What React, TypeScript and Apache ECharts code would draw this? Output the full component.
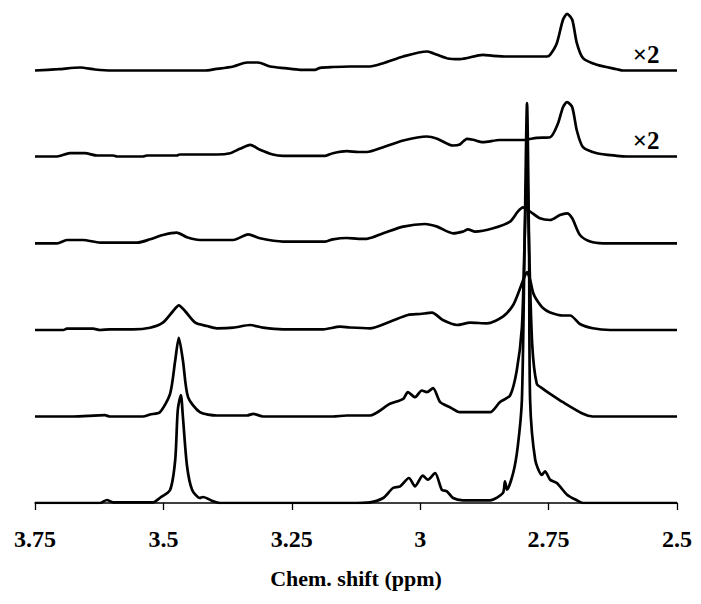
import React, { useEffect, useRef } from "react";
import * as echarts from "echarts";

// Chemical shift axis ticks (ppm), reversed axis
const xTicks = [3.75, 3.5, 3.25, 3, 2.75, 2.5];

// Spectra: [ppm, intensity] pairs, top trace first
const spectrum1: number[][] = [
  [3.75, 0], [3.705, 1.3], [3.662, 3], [3.633, 1], [3.6, 0], [3.419, 0], [3.4, 1.3], [3.364, 4],
  [3.337, 8], [3.316, 8], [3.292, 4], [3.263, 2.3], [3.234, 0.7], [3.205, 0.7], [3.195, 2.7],
  [3.17, 3.5], [3.137, 4], [3.098, 4], [3.072, 7.3], [3.033, 14], [2.987, 19], [2.975, 17.3],
  [2.948, 12.3], [2.923, 11.3], [2.878, 15.7], [2.858, 14.7], [2.831, 14], [2.753, 14], [2.747, 15.7],
  [2.734, 27.3], [2.722, 50.7], [2.714, 56.7], [2.704, 50.7], [2.695, 27.3], [2.683, 12.3],
  [2.656, 5.7], [2.617, 1.3], [2.605, 0], [2.5, 0],
];
const spectrum2: number[][] = [
  [3.75, 0], [3.707, 0], [3.682, 3.3], [3.653, 3.3], [3.629, 1], [3.598, 1], [3.59, 0], [3.54, 0],
  [3.532, 1], [3.474, 1], [3.468, 2], [3.396, 2], [3.37, 3.3], [3.351, 7.7], [3.331, 11.7],
  [3.312, 6.7], [3.287, 2], [3.267, 0.7], [3.185, 0.7], [3.17, 3.3], [3.143, 5.3], [3.12, 4.5],
  [3.104, 4.5], [3.072, 9.3], [3.033, 16], [2.987, 20], [2.967, 17.7], [2.936, 11], [2.923, 12],
  [2.909, 17.7], [2.897, 16.7], [2.878, 14.3], [2.845, 16.5], [2.8, 16.5], [2.773, 18.7],
  [2.747, 19.3], [2.732, 32.7], [2.722, 49.3], [2.714, 54.3], [2.704, 49.3], [2.695, 26],
  [2.683, 9.3], [2.656, 3.3], [2.617, 0.7], [2.597, 0], [2.5, 0],
];
const spectrum3: number[][] = [
  [3.75, 0], [3.707, 0], [3.688, 3.3], [3.657, 3.3], [3.623, 0.7], [3.551, 0.7], [3.526, 4],
  [3.501, 8.3], [3.474, 10.7], [3.454, 6], [3.429, 3.3], [3.364, 3.3], [3.335, 9], [3.312, 5],
  [3.267, 1.7], [3.185, 1.7], [3.17, 4], [3.143, 5.3], [3.12, 4.5], [3.104, 4.5], [3.072, 10],
  [3.033, 16.7], [2.991, 19.3], [2.967, 16.7], [2.936, 10], [2.917, 11.7], [2.907, 14],
  [2.893, 11.7], [2.858, 15], [2.825, 21.7], [2.81, 31.7], [2.8, 36], [2.786, 31.7], [2.767, 25],
  [2.747, 23.3], [2.728, 28.3], [2.714, 30], [2.704, 25], [2.689, 8.3], [2.669, 1.7], [2.644, 0],
  [2.5, 0],
];
const spectrum4: number[][] = [
  [3.75, 0], [3.695, 0], [3.688, 1.3], [3.637, 1.3], [3.623, 0], [3.604, 0.7], [3.559, 0.7],
  [3.526, 2.3], [3.501, 7.3], [3.481, 19], [3.47, 24.7], [3.458, 19], [3.438, 7.3], [3.415, 4],
  [3.396, 1.7], [3.364, 2.3], [3.331, 5], [3.306, 2.3], [3.267, 0.7], [3.189, 0.7], [3.156, 3.3],
  [3.137, 2.5], [3.098, 1.7], [3.059, 8.3], [3.024, 15], [3.0, 16], [2.977, 17.3], [2.956, 10],
  [2.928, 5], [2.903, 7.3], [2.87, 6.7], [2.839, 13.3], [2.819, 25], [2.806, 41], [2.798, 52],
  [2.792, 58], [2.786, 50], [2.78, 37], [2.773, 30], [2.761, 22], [2.747, 17.5], [2.722, 14.5],
  [2.708, 14.5], [2.689, 6], [2.664, 1.7], [2.63, 0], [2.5, 0],
];
const spectrum5: number[][] = [
  [3.75, 0], [3.676, 0], [3.614, 1.3], [3.604, 0], [3.54, 0], [3.526, 2], [3.507, 4.3],
  [3.487, 22.7], [3.477, 56], [3.47, 78.7], [3.462, 56], [3.452, 19.3], [3.429, 4.3], [3.396, 1],
  [3.337, 1], [3.325, 2.7], [3.306, 0], [3.17, 0], [3.143, 1], [3.098, 1], [3.059, 12.7],
  [3.033, 17.7], [3.024, 24.3], [3.01, 19.3], [2.997, 26], [2.987, 24.3], [2.975, 28.3],
  [2.961, 14.3], [2.942, 9.3], [2.923, 4.3], [2.864, 4.3], [2.845, 14.3], [2.825, 21],
  [2.812, 46], [2.802, 89], [2.797, 170], [2.792, 250], [2.788, 170], [2.782, 72.7], [2.773, 32.7],
  [2.761, 27.7], [2.747, 22.7], [2.722, 14.3], [2.683, 2.7], [2.664, 0], [2.5, 0],
];
const spectrum6: number[][] = [
  [3.75, 0], [3.623, 0], [3.61, 3], [3.598, 0.7], [3.52, 0.7], [3.507, 5], [3.487, 13],
  [3.477, 43], [3.472, 93], [3.466, 108], [3.462, 86], [3.454, 37], [3.444, 13], [3.429, 5],
  [3.423, 6], [3.403, 1.7], [3.39, 0], [3.137, 0], [3.098, 0.7], [3.072, 5], [3.053, 15],
  [3.039, 16.7], [3.022, 25], [3.01, 16.7], [2.995, 27.3], [2.985, 23.3], [2.971, 30],
  [2.958, 13.3], [2.948, 11.7], [2.936, 5], [2.917, 2.7], [2.864, 2.7], [2.839, 10], [2.835, 21.7],
  [2.831, 13.3], [2.819, 30], [2.81, 56.7], [2.802, 103], [2.797, 250], [2.792, 400], [2.788, 250],
  [2.786, 103], [2.776, 43], [2.763, 28], [2.757, 31.7], [2.747, 23.3], [2.734, 20], [2.714, 8.3],
  [2.695, 2.7], [2.683, 0], [2.5, 0],
];

const spectra = [spectrum1, spectrum2, spectrum3, spectrum4, spectrum5, spectrum6];
// vertical stacking offsets (intensity units)
const traceOffsets = [432.5, 346.5, 259.7, 173, 86.5, 0];
const scaleLabels = ["×2", "×2", "", "", "", ""];
const scaleLabelPpm = 2.56;

export default function App() {
  const ref = useRef<HTMLDivElement>(null);
  useEffect(() => {
    if (!ref.current) return;
    const chart = echarts.init(ref.current, undefined, { renderer: "svg" });
    const font = "Liberation Serif";
    const series: any[] = spectra.map((s, i) => ({
      type: "line",
      data: s.map(([x, y]) => [x, y + traceOffsets[i]]),
      showSymbol: false,
      smooth: 0.25,
      lineStyle: { color: "#000", width: 2.7 },
      z: 2,
    }));
    chart.setOption({
      animation: false,
      backgroundColor: "#fff",
      grid: { left: 35, right: 24, top: 3, bottom: 101, containLabel: false },
      xAxis: {
        type: "value",
        inverse: true,
        min: 2.5,
        max: 3.75,
        interval: 0.25,
        name: "Chem. shift (ppm)",
        nameLocation: "middle",
        nameGap: 64,
        nameTextStyle: { fontFamily: font, fontWeight: "bold", fontSize: 22, color: "#000" },
        axisLine: { show: true, lineStyle: { color: "#000", width: 1.5 } },
        axisTick: { show: true, inside: false, length: 7, lineStyle: { color: "#000", width: 1.3 } },
        splitLine: { show: false },
        axisLabel: {
          margin: 24,
          fontFamily: font,
          fontWeight: "bold",
          fontSize: 24,
          color: "#000",
          formatter: (v: number) => {
            const t = xTicks.find((k) => Math.abs(k - v) < 1e-6);
            return t === undefined ? "" : String(t);
          },
        },
      },
      yAxis: { type: "value", min: 0, max: 500, show: false },
      series,
    });
    const graphics: any[] = [];
    scaleLabels.forEach((t, i) => {
      if (!t) return;
      const p = chart.convertToPixel({ gridIndex: 0 }, [scaleLabelPpm, traceOffsets[i] + 16.5]);
      graphics.push({
        type: "text",
        x: p[0],
        y: p[1],
        style: {
          text: t,
          fill: "#000",
          fontFamily: font,
          fontWeight: "bold",
          fontSize: 25,
          align: "center",
          verticalAlign: "middle",
        },
      });
    });
    chart.setOption({ graphic: graphics });
    return () => chart.dispose();
  }, []);
  return (
    <div
      ref={ref}
      style={{ position: "fixed", left: 0, top: 0, width: 701, height: 604, background: "#fff" }}
    />
  );
}
